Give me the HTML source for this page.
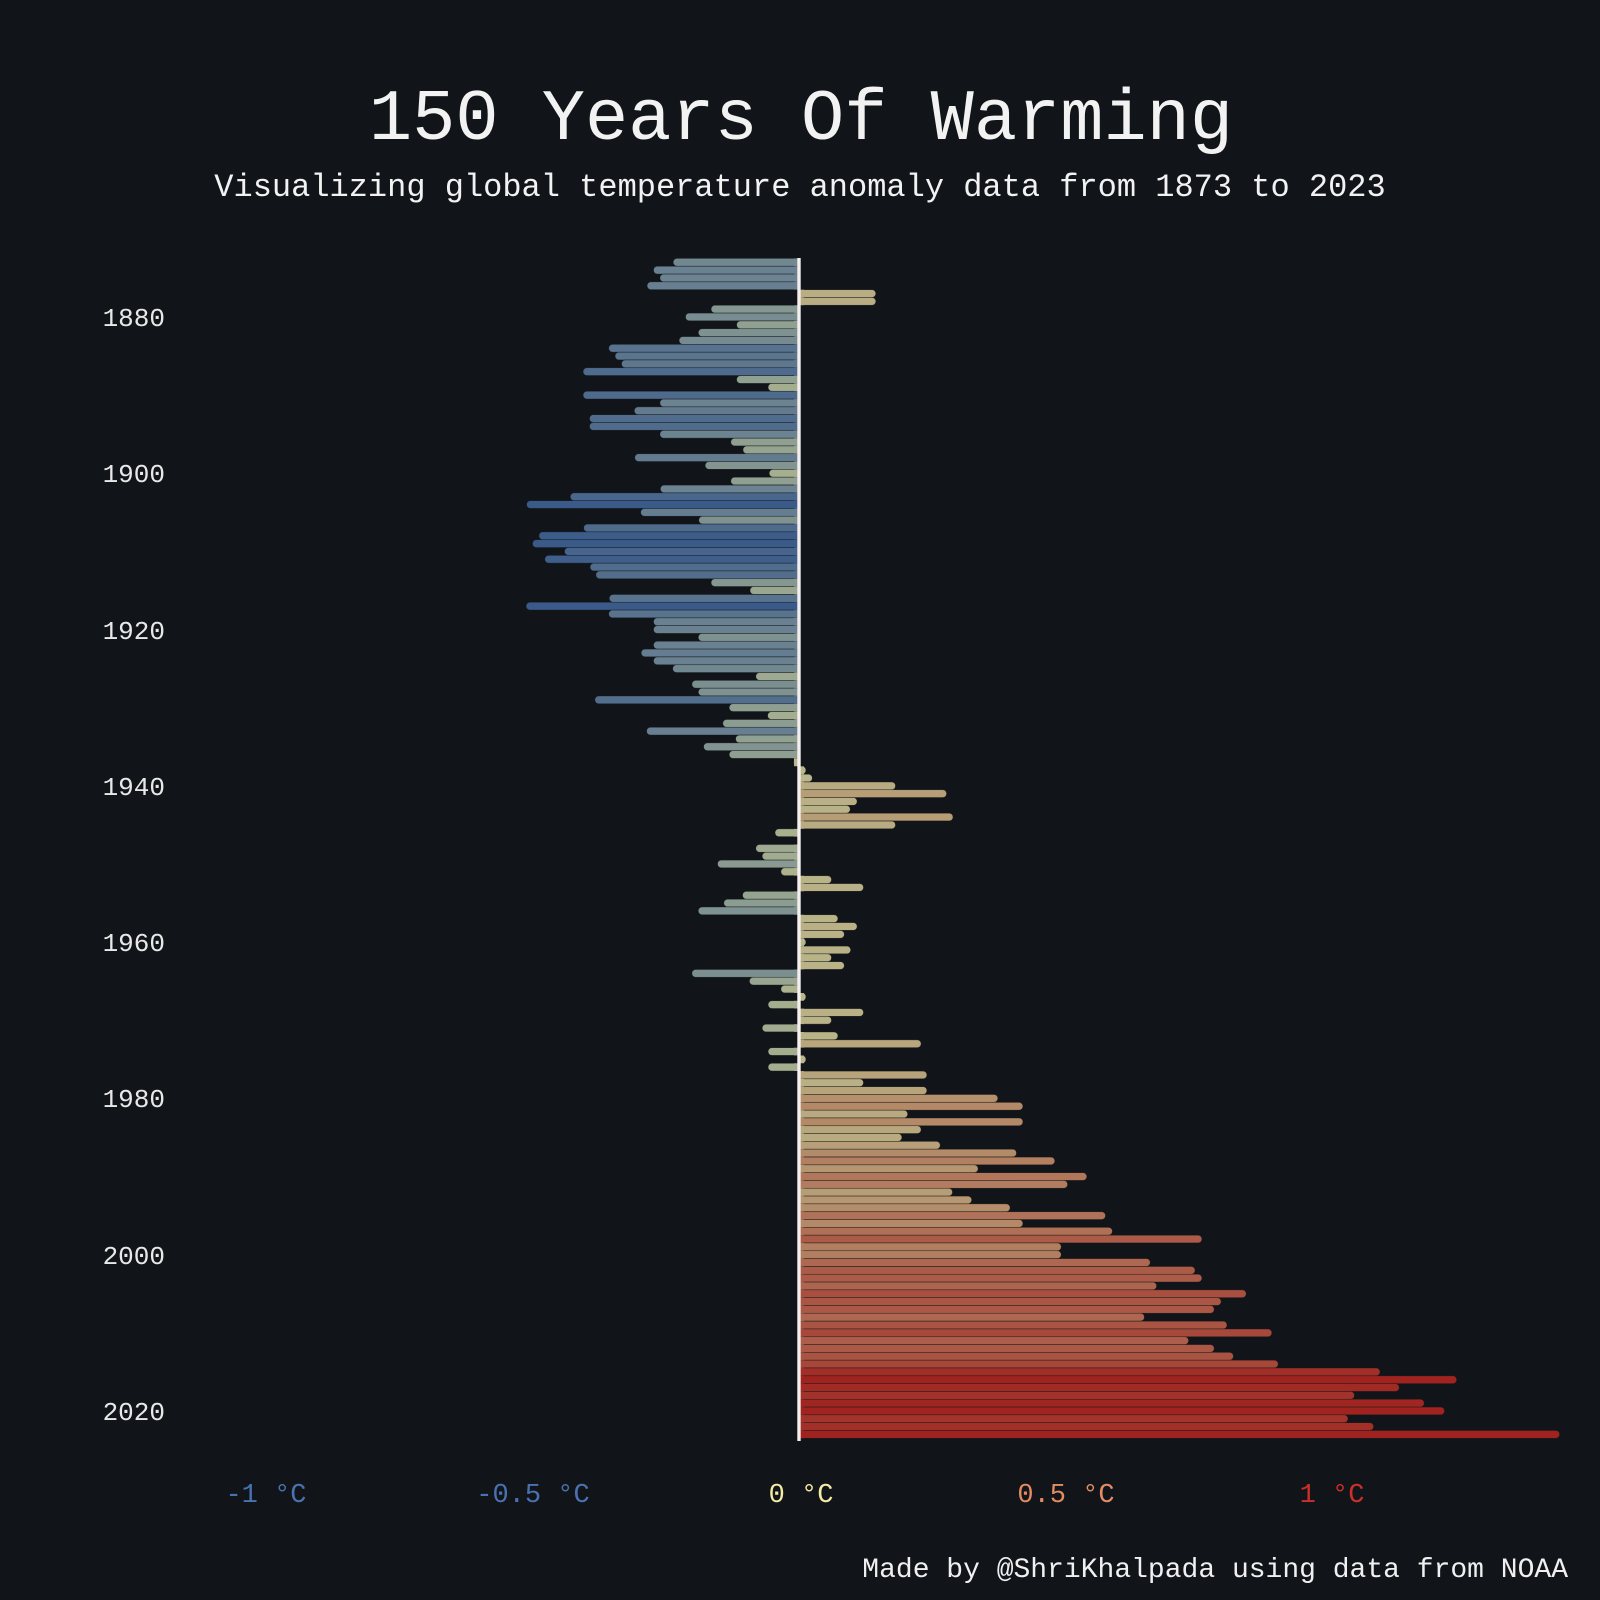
<!DOCTYPE html>
<html><head><meta charset="utf-8"><style>
html,body{margin:0;padding:0;background:#111418;}
svg{display:block;}
text{font-family:"Liberation Mono","DejaVu Sans Mono",monospace;}
</style></head><body>
<svg id="s" width="1600" height="1600" viewBox="0 0 1600 1600" xmlns="http://www.w3.org/2000/svg">
<rect width="1600" height="1600" fill="#111418"/>
<text x="801" y="139" font-size="72" fill="#f2f2f2" text-anchor="middle">150 Years Of Warming</text>
<text x="800" y="196" font-size="32" fill="#f2f2f2" text-anchor="middle">Visualizing global temperature anomaly data from 1873 to 2023</text>
<g id="bars"></g>
<line x1="799" y1="258" x2="799" y2="1441" stroke="#f5eeee" stroke-width="3.4"/>
<g font-size="26" fill="#e8e8e8" text-anchor="end">
<text x="165" y="326">1880</text>
<text x="165" y="482">1900</text>
<text x="165" y="639">1920</text>
<text x="165" y="795">1940</text>
<text x="165" y="951">1960</text>
<text x="165" y="1107">1980</text>
<text x="165" y="1264">2000</text>
<text x="165" y="1420">2020</text>
</g>
<g font-size="27" text-anchor="middle">
<text x="266" y="1502" fill="#4a72b2">-1 °C</text>
<text x="533" y="1502" fill="#4a72b2">-0.5 °C</text>
<text x="801" y="1502" fill="#f4eba6">0 °C</text>
<text x="1066" y="1502" fill="#e38c62">0.5 °C</text>
<text x="1332" y="1502" fill="#cc3028">1 °C</text>
</g>
<text x="1568" y="1577" font-size="28" fill="#f0f0f0" text-anchor="end">Made by @ShriKhalpada using data from NOAA</text>
</svg>
<script>
var v=[-0.236,-0.273,-0.261,-0.285,0.144,0.144,-0.165,-0.213,-0.117,-0.189,-0.225,-0.357,-0.345,-0.333,-0.405,-0.117,-0.058,-0.405,-0.261,-0.309,-0.393,-0.393,-0.261,
-0.128,-0.105,-0.308,-0.176,-0.056,-0.128,-0.260,-0.429,-0.511,-0.297,-0.188,-0.404,-0.488,-0.500,-0.440,-0.477,-0.392,-0.381,-0.165,-0.092,
-0.356,-0.512,-0.357,-0.273,-0.273,-0.189,-0.273,-0.296,-0.273,-0.237,-0.081,-0.201,-0.189,-0.383,-0.131,-0.059,-0.143,-0.286,-0.119,-0.179,-0.131,-0.010,0.013,0.025,0.181,0.277,0.109,0.096,0.289,0.181,-0.045,0.0,
-0.081,-0.069,-0.153,-0.034,0.061,0.121,-0.106,-0.141,-0.189,0.073,0.109,0.085,0.013,0.097,0.061,0.085,-0.201,-0.093,-0.034,0.013,-0.058,0.121,0.061,-0.069,0.073,0.229,-0.058,0.013,-0.058,
0.240,0.121,0.240,0.373,0.420,0.204,0.420,0.229,0.193,0.265,0.408,0.480,0.336,0.540,0.504,0.288,0.324,0.396,0.575,0.420,0.588,0.756,0.492,0.492,0.659,0.743,0.756,0.671,0.839,0.792,0.779,0.648,0.803,0.887,0.731,0.779,0.815,0.899,
1.090,1.234,1.126,1.042,1.173,1.211,1.030,1.078,1.427];
var st=[[-0.5,[58,90,138]],[-0.25,[110,133,145]],[-0.1,[150,165,145]],[0,[185,185,140]],[0.2,[185,170,128]],[0.4,[180,140,105]],[0.6,[175,110,85]],[0.8,[170,85,68]],[1.0,[163,55,45]],[1.2,[160,35,32]]];
function col(x){if(x<=st[0][0])return st[0][1];for(var i=1;i<st.length;i++){if(x<=st[i][0]){var a=st[i-1],b=st[i],t=(x-a[0])/(b[0]-a[0]);return [0,1,2].map(function(k){return Math.round(a[1][k]+(b[1][k]-a[1][k])*t)});}}return st[st.length-1][1];}
var g=document.getElementById('bars'),h='';
for(var i=0;i<v.length;i++){
 var y=262.3+i*7.814,val=v[i];if(Math.abs(val)<0.004)continue;
 var e=799+val*533,c=col(val),cs='rgb('+c.join(',')+')';
 var x0=Math.min(799,e),w=Math.abs(e-799),hh=7.7;
 h+='<rect x="'+x0.toFixed(1)+'" y="'+(y-hh/2).toFixed(1)+'" width="'+w.toFixed(1)+'" height="'+hh+'" rx="3.8" fill="'+cs+'" stroke="#1a1c1e" stroke-width="0.4"/>';
 var sw=Math.min(w,5);
 h+='<rect x="'+(val<0?799-sw:799).toFixed(1)+'" y="'+(y-hh/2).toFixed(1)+'" width="'+sw.toFixed(1)+'" height="'+hh+'" fill="'+cs+'"/>';
}
g.innerHTML=h;
</script>
</body></html>
